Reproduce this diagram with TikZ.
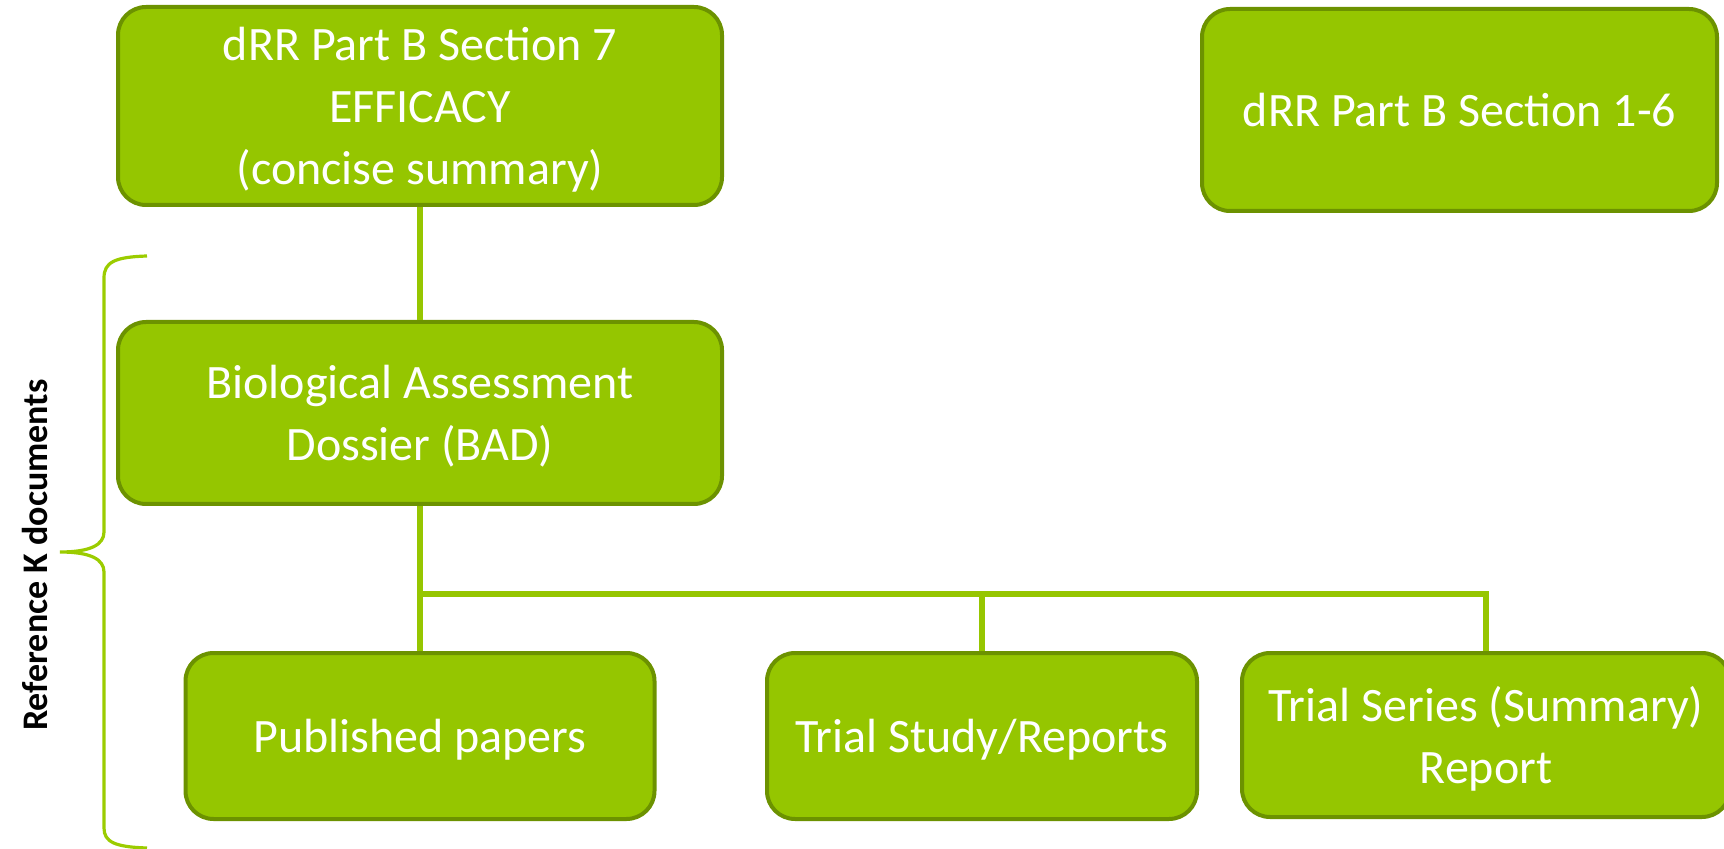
\documentclass[tikz,border=0pt]{standalone}
\usepackage{fontspec}
\setmainfont{Carlito}
\definecolor{boxfill}{RGB}{149,198,0}
\definecolor{boxline}{RGB}{108,146,0}
\definecolor{conn}{RGB}{150,198,0}
\definecolor{bracec}{RGB}{155,204,0}
\begin{document}
\begin{tikzpicture}[x=0.5pt,y=-0.5pt,
  gbox/.style={draw=boxline, line width=2pt, fill=boxfill, rounded corners=14pt,
    text=white, align=center, inner sep=0pt, anchor=center, text depth=0pt,
    font=\fontsize{24}{31}\selectfont},
  link/.style={draw=conn, line width=2.6pt}]
\useasboundingbox (0,0) rectangle (1724,849);
\node[gbox, minimum width=302pt, minimum height=99pt] (sec7) at (420,106)
  {dRR Part B Section 7\\EFFICACY\\(concise summary)};
\node[gbox, minimum width=257.5pt, minimum height=101pt] (sec16) at (1459.5,110)
  {dRR Part B Section 1-6};
\node[gbox, minimum width=302pt, minimum height=91pt] (bad) at (420,413)
  {Biological Assessment\\Dossier (BAD)};
\node[gbox, minimum width=234.5pt, minimum height=83pt] (pub) at (420,736)
  {Published papers};
\node[gbox, minimum width=215pt, minimum height=83pt] (study) at (982,736)
  {Trial Study/Reports};
\node[gbox, minimum width=244pt, minimum height=82pt] (series) at (1486,735)
  {Trial Series (Summary)\\Report};
\coordinate (j) at (420,594);
\coordinate (jr) at (1486,594);
\coordinate (jm) at (982,594);
\draw[link] (sec7.south) -- (bad.north);
\draw[link] (bad.south) -- (j) -- (pub.north);
\draw[link] (j) -- (jr) -- (series.north);
\draw[link] (jm) -- (study.north);
\draw[bracec, line width=1.6pt]
  (147,256) .. controls (115,257) and (104,262) .. (104,278) -- (104,532)
  .. controls (104,545) and (90,552) .. (60,552)
  .. controls (90,552) and (104,559) .. (104,572) -- (104,828)
  .. controls (104,842) and (115,847) .. (147,848);
\node[rotate=90, font=\fontsize{18}{22}\selectfont\bfseries, anchor=center] (lbl) at (35,555) {Reference K documents};
\end{tikzpicture}
\end{document}
